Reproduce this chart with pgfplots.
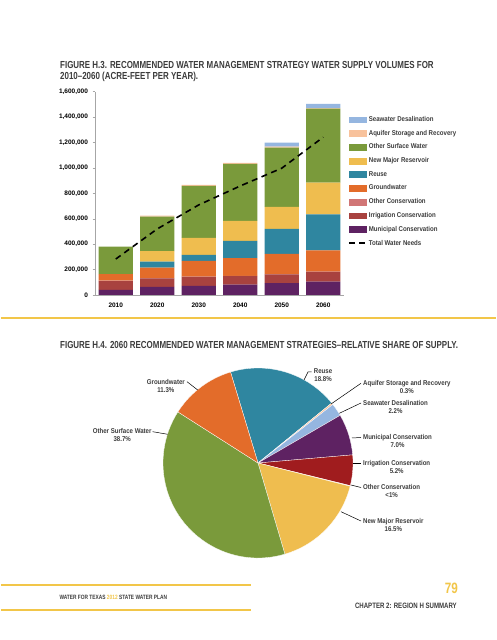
\documentclass[border=0pt]{standalone}
\usepackage{pgfplots}
\pgfplotsset{compat=1.18}
\usepackage{pgfplotstable}
\usepackage{fontspec}
\setmainfont{Liberation Sans}
\newfontfamily\titlefont{Liberation Sans}[FakeStretch=0.78]
\newfontfamily\lab{Liberation Sans}[FakeStretch=0.87]

\definecolor{cdesal}{HTML}{95B6E0}
\definecolor{casr}{HTML}{F8C29C}
\definecolor{cosw}{HTML}{7A9A3B}
\definecolor{cres}{HTML}{EFBD4F}
\definecolor{creuse}{HTML}{2F86A0}
\definecolor{cgw}{HTML}{E36C2A}
\definecolor{coc}{HTML}{D17676}
\definecolor{cirr}{HTML}{A8423F}
\definecolor{cmun}{HTML}{5E2262}
\definecolor{cirrpie}{HTML}{A01C1E}
\definecolor{gold}{HTML}{F2C649}
\definecolor{txt}{HTML}{3C3C3C}

% 2060 relative share (percent), clockwise from 106.8 degrees
\pgfplotstableread{
name pct col
Reuse 18.8 creuse
ASR 0.3 casr
Desal 2.2 cdesal
Mun 7.0 cmun
Irr 5.2 cirrpie
OthCons 0.1 coc
Reservoir 16.5 cres
OSW 38.6 cosw
GW 11.3 cgw
}\pietable

\begin{document}
\begin{tikzpicture}[x=1pt,y=1pt]
\path[fill=white] (0,0) rectangle (495,640);

% ---- Figure H.3 title
\node[anchor=base west, inner sep=0, text=txt, font=\titlefont\bfseries\fontsize{10.2}{10.5}\selectfont] at (59,{640-69}) {FIGURE H.3. RECOMMENDED WATER MANAGEMENT STRATEGY WATER SUPPLY VOLUMES FOR};
\node[anchor=base west, inner sep=0, text=txt, font=\titlefont\bfseries\fontsize{10.2}{10.5}\selectfont] at (59,{640-79.5}) {2010–2060 (ACRE-FEET PER YEAR).};

% ---- stacked bars
\begin{axis}[
  at={(94pt,345pt)}, anchor=south west,
  scale only axis, width=249pt, height=203.3pt,
  xmin=-0.5, xmax=5.5, ymin=0, ymax=1600000,
  ybar stacked, bar width=0.83,
  axis x line*=bottom, axis y line*=left,
  axis line style={-, gray!70, line width=0.6pt},
  xtick={0,1,2,3,4,5}, xticklabels={2010,2020,2030,2040,2050,2060},
  major x tick style={draw=none},
  extra x ticks={-0.5,0.5,1.5,2.5,3.5,4.5,5.5},
  extra x tick labels={},
  extra x tick style={major tick length=3pt, tick align=outside, tick style={gray!70, line width=0.5pt}},
  ytick={0,200000,400000,600000,800000,1000000,1200000,1400000,1600000},
  yticklabels={0,{200,000},{400,000},{600,000},{800,000},{1,000,000},{1,200,000},{1,400,000},{1,600,000}},
  tick align=outside, major tick length=2.5pt,
  y tick style={gray!70, line width=0.5pt},
  scaled y ticks=false,
  tick label style={font=\bfseries\fontsize{6.5}{7}\selectfont, text=black},
  yticklabel style={xshift=-1pt},
  xticklabel style={yshift=-1.5pt},
]
\addplot[fill=cmun, draw=none] coordinates {(0,40000) (1,63000) (2,71000) (3,81000) (4,94000) (5,105000)};
\addplot[fill=cirr, draw=none] coordinates {(0,70000) (1,68000) (2,71000) (3,67000) (4,69000) (5,76000)};
\addplot[fill=coc, draw=none] coordinates {(0,3000) (1,2000) (2,2000) (3,2000) (4,2000) (5,2000)};
\addplot[fill=cgw, draw=none] coordinates {(0,52000) (1,82000) (2,124000) (3,141000) (4,158000) (5,168000)};
\addplot[fill=creuse, draw=none] coordinates {(0,0) (1,47000) (2,47000) (3,134000) (4,197000) (5,283000)};
\addplot[fill=cres, draw=none] coordinates {(0,0) (1,84000) (2,134000) (3,158000) (4,173000) (5,250000)};
\addplot[fill=cosw, draw=none] coordinates {(0,215000) (1,271000) (2,409000) (3,449000) (4,467000) (5,582000)};
\addplot[fill=casr, draw=none] coordinates {(0,0) (1,8000) (2,8000) (3,8000) (4,8000) (5,5000)};
\addplot[fill=cdesal, draw=none] coordinates {(0,0) (1,0) (2,0) (3,0) (4,32000) (5,33000)};
\end{axis}

% ---- total water needs + legend
\begin{axis}[
  at={(94pt,345pt)}, anchor=south west,
  scale only axis, width=249pt, height=203.3pt,
  xmin=-0.5, xmax=5.5, ymin=0, ymax=1600000,
  hide axis, clip=false,
  legend style={at={(1.016,0.89)}, anchor=north west, draw=none, fill=none,
    font=\lab\bfseries\fontsize{7}{8}\selectfont, text=txt, row sep=3.2pt, inner sep=0pt},
  legend cell align=left,
]
\addlegendimage{area legend, fill=cdesal, draw=cdesal}\addlegendentry{Seawater Desalination}
\addlegendimage{area legend, fill=casr, draw=casr}\addlegendentry{Aquifer Storage and Recovery}
\addlegendimage{area legend, fill=cosw, draw=cosw}\addlegendentry{Other Surface Water}
\addlegendimage{area legend, fill=cres, draw=cres}\addlegendentry{New Major Reservoir}
\addlegendimage{area legend, fill=creuse, draw=creuse}\addlegendentry{Reuse}
\addlegendimage{area legend, fill=cgw, draw=cgw}\addlegendentry{Groundwater}
\addlegendimage{area legend, fill=coc, draw=coc}\addlegendentry{Other Conservation}
\addlegendimage{area legend, fill=cirr, draw=cirr}\addlegendentry{Irrigation Conservation}
\addlegendimage{area legend, fill=cmun, draw=cmun}\addlegendentry{Municipal Conservation}
\addplot[black, line width=1.6pt, dash pattern=on 6pt off 4.5pt] coordinates {(0,283000) (1,520000) (2,709000) (3,858000) (4,998000) (5,1242000)};
\addlegendentry{Total Water Needs}
\end{axis}

% ---- gold separator
\draw[gold, line width=2pt] (0,{640-318}) -- (495,{640-318});

% ---- Figure H.4 title
\node[anchor=base west, inner sep=0, text=txt, font=\titlefont\bfseries\fontsize{10.2}{10.5}\selectfont] at (59,{640-349}) {FIGURE H.4. 2060 RECOMMENDED WATER MANAGEMENT STRATEGIES–RELATIVE SHARE OF SUPPLY.};

% ---- pie
\begin{axis}[at={(257pt,177pt)}, anchor=origin, x=1pt, y=1pt, hide axis,
  xmin=-100, xmax=100, ymin=-100, ymax=100, clip=false]
\pgfplotsextra{
  \def\curang{106.8}
  \pgfplotsforeachungrouped \i in {0,...,8}{
    \pgfplotstablegetelem{\i}{pct}\of\pietable \let\p\pgfplotsretval
    \pgfplotstablegetelem{\i}{col}\of\pietable \let\c\pgfplotsretval
    \pgfmathsetmacro\endang{\curang-3.6*\p}
    \fill[fill=\c, draw=white, line width=0.3pt] (axis cs:0,0) -- ++(\curang:95pt) arc[start angle=\curang, end angle=\endang, radius=95pt] -- cycle;
    \let\curang\endang
  }
}
\end{axis}

% ---- pie labels
\begin{scope}[every node/.style={inner sep=0, align=center, text=txt, font=\lab\bfseries\fontsize{7}{8}\selectfont}]
\node[anchor=west] at (312.7,{640-375}) {Reuse\\18.8\%};
\node[anchor=west] at (362,{640-387}) {Aquifer Storage and Recovery\\0.3\%};
\node[anchor=west] at (362,{640-406.5}) {Seawater Desalination\\2.2\%};
\node[anchor=west] at (362,{640-441}) {Municipal Conservation\\7.0\%};
\node[anchor=west] at (362,{640-467}) {Irrigation Conservation\\5.2\%};
\node[anchor=west] at (362,{640-491}) {Other Conservation\\<1\%};
\node[anchor=west] at (362,{640-525}) {New Major Reservoir\\16.5\%};
\node[anchor=east] at (150.7,{640-435.5}) {Other Surface Water\\38.7\%};
\node[anchor=east] at (184,{640-386}) {Groundwater\\11.3\%};
\end{scope}
\begin{scope}[black, line width=0.5pt]
\draw (303,{640-380}) -- (307,{640-372}) -- (310.5,{640-372});
\draw (330,{640-404}) -- (360,{640-383.3});
\draw (338.3,{640-413.3}) -- (360,{640-403});
\draw (351,{640-438}) -- (360,{640-437.5});
\draw (351.7,{640-463}) -- (360,{640-463});
\draw (350,{640-485}) -- (360,{640-487.5});
\draw (340,{640-511.7}) -- (360,{640-521});
\draw (151.7,{640-431.7}) -- (166.7,{640-434.3});
\draw (186,{640-381.7}) -- (196.7,{640-390});
\end{scope}

% ---- footer
\draw[gold, line width=2pt] (0,{640-585}) -- (250,{640-585});
\draw[gold, line width=2pt] (0,{640-610}) -- (250,{640-610});
\node[anchor=base west, inner sep=0, text=txt, font=\titlefont\bfseries\fontsize{6.2}{7}\selectfont] at (58.3,{640-599.3}) {WATER FOR TEXAS \textcolor{gold}{2012} STATE WATER PLAN};
\node[anchor=base east, inner sep=0, text=gold, font=\titlefont\bfseries\fontsize{15}{16}\selectfont] at (457,{640-593.3}) {79};
\node[anchor=base east, inner sep=0, text=txt, font=\titlefont\bfseries\fontsize{7.8}{9}\selectfont] at (456,{640-609}) {CHAPTER 2: REGION H SUMMARY};
\end{tikzpicture}
\end{document}
